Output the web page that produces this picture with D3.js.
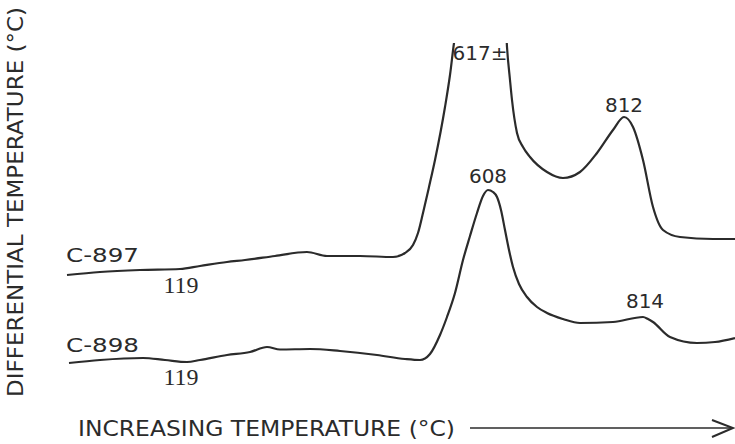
<!DOCTYPE html>
<html>
<head>
<meta charset="utf-8">
<script src="https://cdn.jsdelivr.net/npm/d3@7"></script>
<style>
  body { margin: 0; background: #fff; }
  svg { display: block; }
</style>
</head>
<body>
<svg id="dta"></svg>
<script>
// 1. Data (arbitrary units)
// x = relative furnace temperature, y = differential temperature
const xC897 = [1.4, 8, 16, 24, 28, 33.4, 37, 43, 49.4, 53.4, 60, 66.6, 69, 70.6, 71.6, 72.6, 73.8, 75, 77, 78, 78.8, 79.2, 84, 89.2, 89.4, 90, 90.4, 91.4, 92.6, 94, 97.4, 100.6, 104, 107.4, 110.6, 112.8, 114.6, 116.6, 118.6, 120.6, 124, 130.6, 135];
const yC897 = [25, 25.6, 26, 26.2, 26.8, 27.6, 28, 28.8, 29.6, 28.8, 28.8, 28.6, 29.4, 31, 33.4, 37.4, 42.6, 48, 58.6, 65, 71.4, 74, 80, 74, 70.6, 64, 60, 53.4, 50.6, 48.6, 45.6, 44.4, 45.6, 49.4, 54, 56.6, 54.6, 48, 38.6, 34, 32.6, 32.2, 32.2];

const xC898 = [1.8, 8, 16.6, 21, 25.4, 28, 33.4, 38, 41.4, 44, 50, 56, 63.4, 69, 72, 74, 76, 77.4, 79, 80.6, 82, 83.4, 84.6, 85.6, 86.6, 87.4, 88.2, 89, 89.8, 90.6, 91.8, 93.4, 95.4, 97.4, 100.6, 104, 110.6, 116.6, 117.6, 118.6, 122, 127.4, 131, 135];
const yC898 = [7.4, 8, 8.4, 8, 7.6, 8, 9, 9.6, 10.6, 10.1, 10.2, 9.8, 9, 8.2, 8, 9.2, 13, 16.6, 21.4, 28, 32.8, 37.4, 40.8, 42, 41.6, 40.6, 38, 34, 30, 26.6, 23.2, 20.6, 18.6, 17.4, 16.2, 15.4, 15.6, 16.6, 16.2, 15.6, 12.6, 11.4, 11.6, 12.4];

// peak labels: text, x, y (same units as the curves)
const peakLabels = ["617\u00b1", "812", "608", "814", "119", "119"];
const peakX = [84, 112.8, 85.6, 117, 24.2, 24.2];
const peakY = [68, 57.6, 43.4, 18.4, 21.4, 3];

const seriesNames = ["C-897", "C-898"];
const seriesLabelY = [27.6, 9.6];

// 2. SVG setup
const W = 735, H = 444;
const svg = d3.select("#dta").attr("width", W).attr("height", H);

const x = d3.scaleLinear().domain([0, 135]).range([60, 735]);
const y = d3.scaleLinear().domain([0, 72]).range([400, 40]);

const ink = "#2b2b2b";

// 2.1 clip: the 617 peak runs off the top of the record
svg.append("defs")
  .append("clipPath")
  .attr("id", "plot-clip")
  .append("rect")
  .attr("x", 0)
  .attr("y", y(71.4))
  .attr("width", W)
  .attr("height", H);

// 3. Curves
const line = d3.line()
  .x((d) => x(d[0]))
  .y((d) => y(d[1]))
  .curve(d3.curveMonotoneX);

const curves = [d3.zip(xC897, yC897), d3.zip(xC898, yC898)];

svg.append("g")
  .attr("clip-path", "url(#plot-clip)")
  .selectAll("path")
  .data(curves)
  .enter()
  .append("path")
  .attr("d", line)
  .attr("fill", "none")
  .attr("stroke", ink)
  .attr("stroke-width", 2.2)
  .attr("stroke-linejoin", "round");

// 4. Labels
const sans = "'DejaVu Sans', sans-serif";

svg.selectAll(".series-label")
  .data(seriesNames)
  .enter()
  .append("text")
  .attr("class", "series-label")
  .attr("x", 66)
  .attr("y", (d, i) => y(seriesLabelY[i]))
  .attr("font-family", sans)
  .attr("font-size", "20px")
  .attr("textLength", 73)
  .attr("lengthAdjust", "spacingAndGlyphs")
  .attr("fill", ink)
  .text((d) => d);

svg.selectAll(".peak-label")
  .data(peakLabels)
  .enter()
  .append("text")
  .attr("class", "peak-label")
  .attr("x", (d, i) => x(peakX[i]))
  .attr("y", (d, i) => y(peakY[i]))
  .attr("text-anchor", "middle")
  .attr("font-family", (d) => d === "119" ? "'Liberation Serif', serif" : sans)
  .attr("font-size", (d) => d === "119" ? "24px" : "20px")
  .attr("fill", ink)
  .text((d) => d);

// 4.1 Axis titles
svg.append("text")
  .attr("transform", "translate(23, 202) rotate(-90)")
  .attr("text-anchor", "middle")
  .attr("font-family", sans)
  .attr("font-size", "21px")
  .attr("textLength", 390)
  .attr("lengthAdjust", "spacingAndGlyphs")
  .attr("fill", ink)
  .text("DIFFERENTIAL  TEMPERATURE  (\u00b0C)");

svg.append("text")
  .attr("x", 78)
  .attr("y", 436)
  .attr("font-family", sans)
  .attr("font-size", "21px")
  .attr("textLength", 377)
  .attr("lengthAdjust", "spacingAndGlyphs")
  .attr("fill", ink)
  .text("INCREASING  TEMPERATURE  (\u00b0C)");

// 4.2 Arrow
svg.append("line")
  .attr("x1", 470)
  .attr("x2", 732)
  .attr("y1", 428)
  .attr("y2", 428)
  .attr("stroke", ink)
  .attr("stroke-width", 1.6);

svg.append("path")
  .attr("d", "M712,420 L733,428 L712,437")
  .attr("fill", "none")
  .attr("stroke", ink)
  .attr("stroke-width", 2);
</script>
</body>
</html>
